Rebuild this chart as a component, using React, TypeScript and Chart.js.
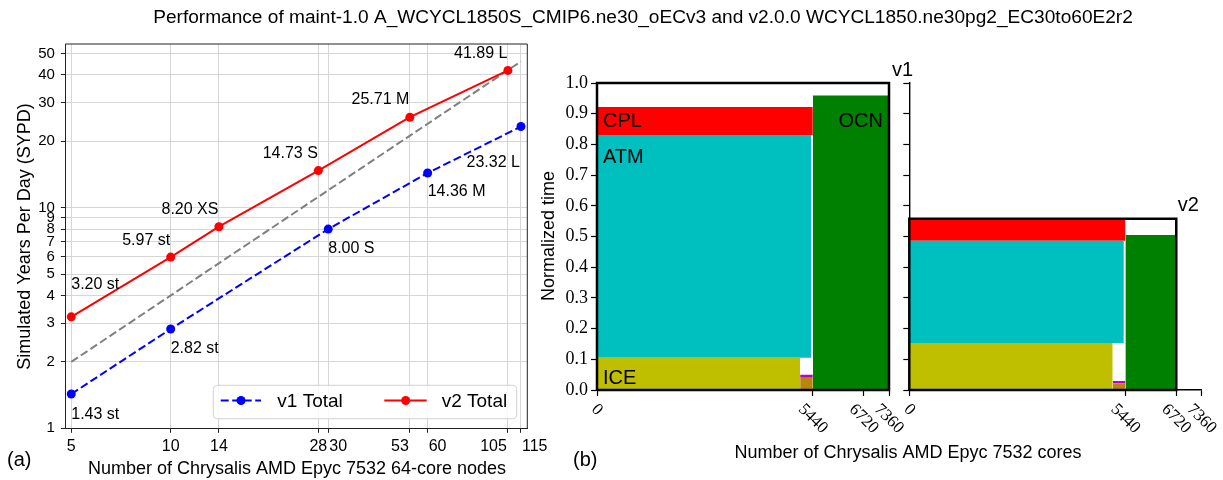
import React, { useEffect, useRef } from 'react';
import { Chart, registerables } from 'chart.js';

Chart.register(...registerables);

const SANS = "'Liberation Sans', Arial, sans-serif";
const SERIF = "'Liberation Serif', 'Times New Roman', serif";

// ---------- texts ----------
const suptitleText = 'Performance of maint-1.0 A_WCYCL1850S_CMIP6.ne30_oECv3 and v2.0.0 WCYCL1850.ne30pg2_EC30to60E2r2';
const leftXTitle = 'Number of Chrysalis AMD Epyc 7532 64-core nodes';
const leftYTitle = 'Simulated Years Per Day (SYPD)';
const rightXTitle = 'Number of Chrysalis AMD Epyc 7532 cores';
const rightYTitle = 'Normalized time';

// ---------- panel (a) data ----------
const v1Nodes = [5, 10, 30, 60, 115];
const v1Sypd = [1.43, 2.82, 8.0, 14.36, 23.32];
const v1Labels = ['1.43 st', '2.82 st', '8.00 S', '14.36 M', '23.32 L'];
const v2Nodes = [5, 10, 14, 28, 53, 105];
const v2Sypd = [3.2, 5.97, 8.2, 14.73, 25.71, 41.89];
const v2Labels = ['3.20 st', '5.97 st', '8.20 XS', '14.73 S', '25.71 M', '41.89 L'];
const idealNodes = [5, 115];
const idealSypd = [2.0, 46.0];
const nodeTicks = [5, 10, 14, 28, 30, 53, 60, 105, 115];
const sypdTicks = [1, 2, 3, 4, 5, 6, 7, 8, 9, 10, 20, 30, 40, 50];

// ---------- panel (b) data ----------
const coreTicks = [0, 5440, 6720, 7360];
const timeTicks = [0, 0.1, 0.2, 0.3, 0.4, 0.5, 0.6, 0.7, 0.8, 0.9, 1.0];
const compNames = ['ICE', 'LND', 'ROF', 'ATM', 'CPL', 'OCN'];
const v1CoreStart = [0, 5120, 5120, 0, 0, 5440];
const v1CoreEnd = [5120, 5440, 5440, 5400, 5440, 7360];
const v1TimeStart = [0, 0, 0.04, 0.105, 0.831, 0];
const v1TimeEnd = [0.105, 0.04, 0.05, 0.831, 0.922, 0.959];
const v2CoreStart = [0, 5120, 5120, 0, 0, 5440];
const v2CoreEnd = [5120, 5440, 5440, 5400, 5440, 6720];
const v2TimeStart = [0, 0, 0.022, 0.153, 0.486, 0];
const v2TimeEnd = [0.153, 0.022, 0.029, 0.486, 0.557, 0.505];
const v1TotalCores = 7360;
const v1TotalTime = 1.0;
const v2TotalCores = 6720;
const v2TotalTime = 0.558;

// ---------- styles ----------
const compColors: Record<string, string> = {
  ICE: '#bfbf00',
  LND: '#b8860b',
  ROF: '#bf00bf',
  ATM: '#00bfbf',
  CPL: '#ff0000',
  OCN: '#008000',
};

const W = 1223;
const H = 480;

// panel (a) layout
const A_LEFT = 65.4;
const A_RIGHT = 527.3;
const A_TOP = 44;
const A_BOTTOM = 428.3;

// panel (b) layout
const B_CANVAS_LEFT = 530;
const B_CANVAS_W = 440;
const B_RIGHT = 889;
const C_CANVAS_LEFT = 900;
const C_CANVAS_W = 323;
const C_LEFT = 909.3;
const C_RIGHT = 1201.7;
const B_TOP = 83;
const B_BOTTOM = 390;

const DASH = [8, 3.5];

function rectDatasets(cs: number[], ce: number[], ts: number[], te: number[]) {
  return compNames.map((name, i) => ({
    label: name,
    data: [
      { x: cs[i], y: te[i] },
      { x: ce[i], y: te[i] },
    ],
    borderColor: compColors[name],
    backgroundColor: compColors[name],
    borderWidth: 0,
    pointRadius: 0,
    fill: { value: ts[i] },
    tension: 0,
  }));
}

function frameDataset(cores: number, time: number) {
  return {
    label: 'total',
    data: [
      { x: 0, y: 0 },
      { x: 0, y: time },
      { x: cores, y: time },
      { x: cores, y: 0 },
      { x: 0, y: 0 },
    ],
    borderColor: '#000',
    backgroundColor: '#000',
    borderWidth: 2.5,
    pointRadius: 0,
    fill: false,
    clip: 6,
    tension: 0,
  };
}

function drawRotatedCoreTicks(chart: any) {
  const ctx = chart.ctx;
  const xs = chart.scales.x;
  const ca = chart.chartArea;
  ctx.save();
  ctx.font = `17px ${SERIF}`;
  ctx.fillStyle = '#000';
  ctx.textAlign = 'center';
  ctx.textBaseline = 'middle';
  coreTicks.forEach((v) => {
    const s = String(v);
    const px = xs.getPixelForValue(v);
    const w = ctx.measureText(s).width;
    const cy = ca.bottom + 13 + (w + 11) / (2 * Math.SQRT2);
    ctx.save();
    ctx.translate(px, cy);
    ctx.rotate(Math.PI / 4);
    ctx.fillText(s, 0, 0);
    ctx.restore();
  });
  ctx.restore();
}

const panelAPlugin = {
  id: 'panelAText',
  afterDraw(chart: any) {
    const ctx = chart.ctx;
    const ca = chart.chartArea;
    const xs = chart.scales.x;
    const ys = chart.scales.y;
    ctx.save();
    // top / right spines
    ctx.strokeStyle = '#222';
    ctx.lineWidth = 1;
    ctx.beginPath();
    ctx.moveTo(ca.left, ca.top);
    ctx.lineTo(ca.right, ca.top);
    ctx.lineTo(ca.right, ca.bottom);
    ctx.stroke();

    // x tick labels
    ctx.fillStyle = '#000';
    ctx.font = `16px ${SANS}`;
    ctx.textBaseline = 'alphabetic';
    const tickAlign = ['center', 'center', 'center', 'center', 'left', 'right', 'left', 'right', 'left'];
    nodeTicks.forEach((v, i) => {
      const px = xs.getPixelForValue(v);
      const al = tickAlign[i];
      ctx.textAlign = al;
      const dx = al === 'left' ? 1 : al === 'right' ? -1 : 0;
      ctx.fillText(String(v), px + dx, 451);
    });

    // point annotations
    ctx.font = `16px ${SANS}`;
    ctx.textBaseline = 'middle';
    const v2Place: [string, number][] = [['left', -32], ['right', -17], ['right', -17], ['right', -17], ['right', -18], ['right', -17]];
    const v1Place: [string, number][] = [['left', 21], ['left', 20], ['left', 20], ['left', 19], ['right', 36]];
    v2Nodes.forEach((x, i) => {
      const px = xs.getPixelForValue(x);
      const py = ys.getPixelForValue(v2Sypd[i]);
      ctx.textAlign = v2Place[i][0];
      ctx.fillText(v2Labels[i], px + (v2Place[i][0] === 'right' ? -0.5 : 0), py + v2Place[i][1]);
    });
    v1Nodes.forEach((x, i) => {
      const px = xs.getPixelForValue(x);
      const py = ys.getPixelForValue(v1Sypd[i]);
      ctx.textAlign = v1Place[i][0];
      ctx.fillText(v1Labels[i], px + (v1Place[i][0] === 'right' ? -1 : 0), py + v1Place[i][1]);
    });

    // legend
    ctx.beginPath();
    ctx.roundRect(213.3, 385.3, 303.4, 33.4, 4);
    ctx.fillStyle = 'rgba(255,255,255,0.85)';
    ctx.fill();
    ctx.strokeStyle = '#d0d0d0';
    ctx.lineWidth = 1;
    ctx.stroke();
    const legendItems = [
      { text: 'v1 Total', color: '#0000ff', dash: DASH, x0: 220.7, x1: 261, dot: 241, tx: 277.3 },
      { text: 'v2 Total', color: '#ff0000', dash: [] as number[], x0: 384.3, x1: 426.7, dot: 405.7, tx: 441.7 },
    ];
    legendItems.forEach((it) => {
      ctx.strokeStyle = it.color;
      ctx.lineWidth = 2;
      ctx.setLineDash(it.dash);
      ctx.beginPath();
      ctx.moveTo(it.x0, 400.5);
      ctx.lineTo(it.x1, 400.5);
      ctx.stroke();
      ctx.setLineDash([]);
      ctx.fillStyle = it.color;
      ctx.beginPath();
      ctx.arc(it.dot, 400.5, 4.5, 0, Math.PI * 2);
      ctx.fill();
      ctx.fillStyle = '#000';
      ctx.font = `19px ${SANS}`;
      ctx.textAlign = 'left';
      ctx.textBaseline = 'alphabetic';
      ctx.fillText(it.text, it.tx, 407);
    });

    // axis titles (a)
    ctx.fillStyle = '#000';
    ctx.font = `18px ${SANS}`;
    ctx.textAlign = 'center';
    ctx.textBaseline = 'alphabetic';
    ctx.fillText(leftXTitle, 297, 473.5);
    ctx.save();
    ctx.translate(30, 236.5);
    ctx.rotate(-Math.PI / 2);
    ctx.fillText(leftYTitle, 0, 0);
    ctx.restore();

    // axis titles (b)
    ctx.fillText(rightXTitle, 908, 458);
    ctx.save();
    ctx.translate(554, 236);
    ctx.rotate(-Math.PI / 2);
    ctx.fillText(rightYTitle, 0, 0);
    ctx.restore();

    // panel letters
    ctx.font = `20px ${SANS}`;
    ctx.textAlign = 'left';
    ctx.fillText('(a)', 7, 466);
    ctx.fillText('(b)', 573, 466);

    // suptitle
    ctx.font = `100px ${SANS}`;
    const w100 = ctx.measureText(suptitleText).width;
    const fs = (100 * 980) / w100;
    ctx.font = `${fs.toFixed(2)}px ${SANS}`;
    ctx.textAlign = 'center';
    ctx.fillText(suptitleText, 643, 23);
    ctx.restore();
  },
};

const panelBPlugin = {
  id: 'panelBText',
  afterDraw(chart: any) {
    drawRotatedCoreTicks(chart);
    const ctx = chart.ctx;
    const xs = chart.scales.x;
    const ys = chart.scales.y;
    ctx.save();
    ctx.fillStyle = '#000';
    ctx.font = `20px ${SANS}`;
    ctx.textBaseline = 'middle';
    const x0 = xs.getPixelForValue(0);
    const xEnd = xs.getPixelForValue(v1TotalCores);
    ctx.textAlign = 'left';
    ctx.fillText('CPL', x0 + 6, ys.getPixelForValue(0.875));
    ctx.fillText('ATM', x0 + 6, ys.getPixelForValue(0.756));
    ctx.fillText('ICE', x0 + 6, ys.getPixelForValue(0.039));
    ctx.textAlign = 'right';
    ctx.fillText('OCN', xEnd - 6, ys.getPixelForValue(0.875));
    ctx.textAlign = 'left';
    ctx.fillText('v1', xEnd + 3, ys.getPixelForValue(v1TotalTime) - 13);
    ctx.restore();
  },
};

const panelCPlugin = {
  id: 'panelCText',
  afterDraw(chart: any) {
    drawRotatedCoreTicks(chart);
    const ctx = chart.ctx;
    const xs = chart.scales.x;
    const ys = chart.scales.y;
    ctx.save();
    ctx.fillStyle = '#000';
    ctx.font = `20px ${SANS}`;
    ctx.textBaseline = 'middle';
    ctx.textAlign = 'left';
    ctx.fillText('v2', xs.getPixelForValue(v2TotalCores) + 1.5, ys.getPixelForValue(v2TotalTime) - 13);
    ctx.restore();
  },
};

function bScales(showYLabels: boolean, yWidth: number) {
  return {
    x: {
      type: 'linear',
      min: 0,
      max: 7360,
      afterBuildTicks: (s: any) => {
        s.ticks = coreTicks.map((v) => ({ value: v }));
      },
      afterFit: (s: any) => {
        s.height = H - B_BOTTOM;
      },
      ticks: { display: false },
      grid: { drawOnChartArea: false, drawTicks: true, tickLength: 6, tickColor: '#000', tickWidth: 1.2 },
      border: { display: true, color: '#000', width: 1.4 },
    },
    y: {
      type: 'linear',
      min: 0,
      max: 1,
      afterBuildTicks: (s: any) => {
        s.ticks = timeTicks.map((v) => ({ value: v }));
      },
      afterFit: (s: any) => {
        s.width = yWidth;
      },
      ticks: {
        display: showYLabels,
        font: { family: SERIF, size: 18 },
        color: '#000',
        padding: 3,
        callback: (v: any) => Number(v).toFixed(1),
      },
      grid: { drawOnChartArea: false, drawTicks: true, tickLength: 6, tickColor: '#000', tickWidth: 1.2 },
      border: { display: true, color: '#000', width: 1.4 },
    },
  };
}

export default function App() {
  const refA = useRef<HTMLCanvasElement>(null);
  const refB = useRef<HTMLCanvasElement>(null);
  const refC = useRef<HTMLCanvasElement>(null);

  useEffect(() => {
    Chart.defaults.font.family = SANS;

    const chartA = new Chart(refA.current as HTMLCanvasElement, {
      type: 'line',
      data: {
        datasets: [
          {
            label: 'v2 Total',
            data: v2Nodes.map((x, i) => ({ x, y: v2Sypd[i] })),
            borderColor: '#ff0000',
            backgroundColor: '#ff0000',
            pointBackgroundColor: '#ff0000',
            borderWidth: 2,
            pointRadius: 4.5,
            pointBorderWidth: 0,
            fill: false,
            clip: false,
            tension: 0,
          },
          {
            label: 'v1 Total',
            data: v1Nodes.map((x, i) => ({ x, y: v1Sypd[i] })),
            borderColor: '#0000ff',
            backgroundColor: '#0000ff',
            pointBackgroundColor: '#0000ff',
            borderWidth: 2,
            borderDash: DASH,
            pointRadius: 4.5,
            pointBorderWidth: 0,
            fill: false,
            clip: false,
            tension: 0,
          },
          {
            label: 'ideal',
            data: idealNodes.map((x, i) => ({ x, y: idealSypd[i] })),
            borderColor: '#808080',
            backgroundColor: '#808080',
            borderWidth: 2,
            borderDash: DASH,
            pointRadius: 0,
            fill: false,
            tension: 0,
          },
        ],
      } as any,
      options: {
        responsive: false,
        animation: false,
        devicePixelRatio: 1,
        events: [],
        layout: { padding: { left: 0, top: A_TOP, right: W - A_RIGHT, bottom: 0 } },
        plugins: { legend: { display: false }, tooltip: { enabled: false }, title: { display: false } },
        scales: {
          x: {
            type: 'logarithmic',
            min: 4.8,
            max: 120.2,
            afterBuildTicks: (s: any) => {
              s.ticks = nodeTicks.map((v) => ({ value: v }));
            },
            afterFit: (s: any) => {
              s.height = H - A_BOTTOM;
            },
            ticks: { display: false },
            grid: { color: '#d6d6d6', lineWidth: 1, drawTicks: true, tickLength: 4.5, tickColor: '#222', tickWidth: 1 },
            border: { display: true, color: '#222', width: 1 },
          },
          y: {
            type: 'logarithmic',
            min: 1,
            max: 55.2,
            afterBuildTicks: (s: any) => {
              s.ticks = sypdTicks.map((v) => ({ value: v }));
            },
            afterFit: (s: any) => {
              s.width = A_LEFT;
            },
            ticks: {
              autoSkip: false,
              font: { family: SANS, size: 15 },
              color: '#000',
              padding: 6,
              callback: (v: any) => String(v),
            },
            grid: { color: '#d6d6d6', lineWidth: 1, drawTicks: true, tickLength: 4.5, tickColor: '#222', tickWidth: 1 },
            border: { display: true, color: '#222', width: 1 },
          },
        },
      } as any,
      plugins: [panelAPlugin],
    });

    const chartB = new Chart(refB.current as HTMLCanvasElement, {
      type: 'line',
      data: {
        datasets: [frameDataset(v1TotalCores, v1TotalTime), ...rectDatasets(v1CoreStart, v1CoreEnd, v1TimeStart, v1TimeEnd)],
      } as any,
      options: {
        responsive: false,
        animation: false,
        devicePixelRatio: 1,
        events: [],
        layout: { padding: { left: 0, top: B_TOP, right: B_CANVAS_W - (B_RIGHT - B_CANVAS_LEFT), bottom: 0 } },
        plugins: { legend: { display: false }, tooltip: { enabled: false } },
        scales: bScales(true, 597 - B_CANVAS_LEFT),
      } as any,
      plugins: [panelBPlugin],
    });

    const chartC = new Chart(refC.current as HTMLCanvasElement, {
      type: 'line',
      data: {
        datasets: [frameDataset(v2TotalCores, v2TotalTime), ...rectDatasets(v2CoreStart, v2CoreEnd, v2TimeStart, v2TimeEnd)],
      } as any,
      options: {
        responsive: false,
        animation: false,
        devicePixelRatio: 1,
        events: [],
        layout: { padding: { left: 0, top: B_TOP, right: C_CANVAS_W - (C_RIGHT - C_CANVAS_LEFT), bottom: 0 } },
        plugins: { legend: { display: false }, tooltip: { enabled: false } },
        scales: bScales(false, C_LEFT - C_CANVAS_LEFT),
      } as any,
      plugins: [panelCPlugin],
    });

    return () => {
      chartA.destroy();
      chartB.destroy();
      chartC.destroy();
    };
  }, []);

  return (
    <div style={{ position: 'absolute', left: 0, top: 0, width: W, height: H, background: '#fff' }}>
      <canvas ref={refA} width={W} height={H} style={{ position: 'absolute', left: 0, top: 0 }} />
      <canvas ref={refB} width={B_CANVAS_W} height={H} style={{ position: 'absolute', left: B_CANVAS_LEFT, top: 0 }} />
      <canvas ref={refC} width={C_CANVAS_W} height={H} style={{ position: 'absolute', left: C_CANVAS_LEFT, top: 0 }} />
    </div>
  );
}
